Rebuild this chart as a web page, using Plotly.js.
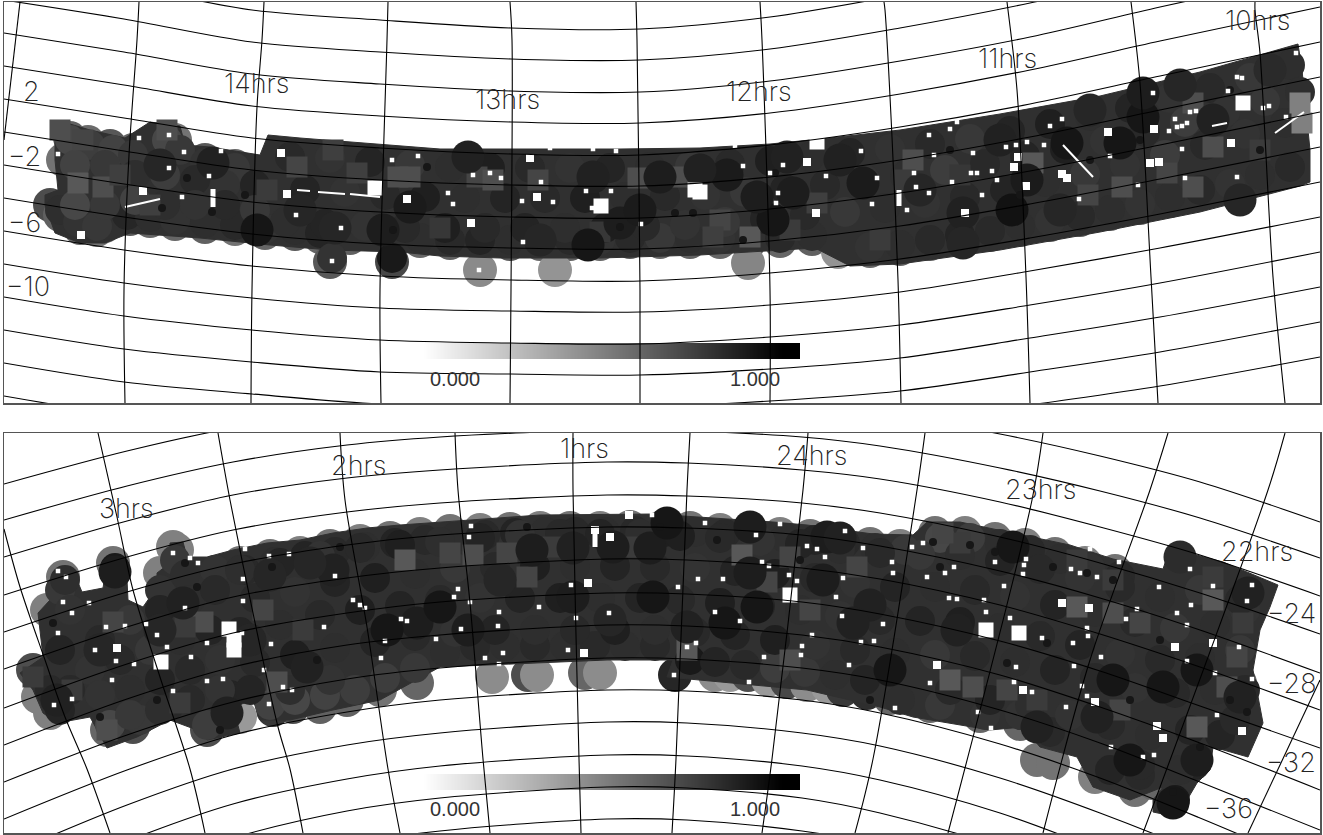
<!DOCTYPE html>
<html><head><meta charset="utf-8">
<script src="https://cdn.plot.ly/plotly-3.0.1.min.js"></script>
<style>html,body{margin:0;padding:0;background:#fff;overflow:hidden}#c{width:1323px;height:835px}</style>
</head><body><div id="c"></div>
<script>
// ---- graticule
const topParX=[4,124,252,380,511,640,770,900,1030,1160,1320];
const topParY=[
[-33,-14,10,20,28,29,17,-5,-30,-62,-98],
[0,19,42,52,59,60,49,28,3,-27,-63],
[33,52,74,84,91,92,81,61,37,7,-28],
[66,85,106,116,122,123,113,94,70,41,7],
[99,118,138,148,154,155,145,127,104,76,42],
[132,151,170,180,185,186,177,160,137,110,77],
[165,184,202,212,217,218,209,193,171,145,112],
[198,217,234,244,248,249,241,226,204,179,147],
[231,250,266,276,280,281,273,259,238,214,182],
[264,283,298,308,311,312,305,292,271,248,217],
[297,316,330,340,343,344,337,325,305,283,252],
[330,349,362,372,374,375,369,358,338,317,287],
[363,382,394,404,406,407,401,391,372,352,322],
[396,415,426,436,437,438,433,424,405,386,357]];
const topMerX=[[20,4],[139,137,129,124,125],[264,262,257,252,251],[388,387,380,381],[510,512,511,510],[636,637,640,640],[760,762,770,770],[884,885,892,898,901],[1007,1008,1017,1026,1030],[1131,1132,1140,1151,1158],[1255,1255,1260,1273,1285]];
const topMerY=[[2,140],[2,40,155,290,403],[2,40,107,290,403],[2,40,290,403],[2,40,290,403],[2,40,290,403],[2,40,290,403],[2,10,137,280,403],[2,10,90,277,403],[2,10,83,277,403],[2,10,53,277,403]];

const botParX=[4,127,233,347,440,607,687,802,880,1000,1100,1200,1320];
const botParY=[
[484,451,428,413,405,398,399,405,413,434,456,482,522],
[520,486,462,445,437,430,431,437,446,468,491,518,558],
[557,521,495,478,470,462,463,470,479,502,527,555,596],
[595,557,530,512,503,495,496,503,513,537,563,593,634],
[632,592,564,545,535,527,528,535,546,571,598,630,673],
[669,627,597,578,568,559,560,568,579,605,634,667,710],
[708,664,633,613,602,593,594,602,614,641,671,706,748],
[745,699,667,645,635,625,626,635,647,675,707,743,790],
[782,735,702,679,668,658,659,668,680,710,743,782,830],
[819,770,735,712,700,690,691,700,713,744,778,818,869],
[856,805,769,745,733,722,723,733,746,778,813,853,908],
[893,841,804,779,766,755,756,766,780,813,850,891,948],
[930,876,838,811,798,787,788,798,813,847,885,928,988],
[967,911,871,844,831,819,820,831,845,880,920,965,1028]];
const botMerX=[[4,20,45,65,87,110],[98,117,133,160,190,205],[218,230,253,278,290,303],[340,345,367,388,400],[455,458,470,483,490],[573,573,579,581],[690,687,676,672],[808,803,772,762],[925,917,873,855],[1043,1032,948],[1168,1150,1090,1043],[1285,1268,1143],[1320,1248]];
const botMerY=[[529,587,660,717,769,833],[433,517,590,677,769,833],[433,500,613,727,769,833],[433,500,627,769,833],[433,490,603,759,833],[433,490,759,833],[433,490,759,833],[433,490,759,833],[433,490,759,833],[433,500,833],[433,490,660,833],[433,490,833],[680,833]];

// ---- colour key
const keyX=[423,459,495,531,567,603,639,675,711,747,782];
const keyLevels=[0,0.1,0.2,0.3,0.4,0.5,0.6,0.7,0.8,0.9,1];

// ---- survey outline
const topBodyX=[55,70,90,125,150,180,185,210,260,268,300,380,440,500,620,700,770,830,900,1000,1100,1200,1298,1302,1305,1310,1310,1300,1200,1100,1000,900,850,815,700,600,500,440,400,330,270,200,130,105,80,55,45,45,58,55];
const topBodyY=[125,124,130,138,122,126,145,147,155,135,138,144,149,149,149,148,144,138,130,114,96,72,44,70,100,150,182,186,212,232,250,264,266,248,255,258,258,256,252,250,245,238,233,243,243,233,205,195,190,160];
const botBodyX=[20,43,38,50,52,60,77,82,103,107,120,127,128,143,157,157,170,170,183,187,207,233,267,300,333,367,400,440,540,653,730,773,807,873,913,927,960,1023,1070,1113,1163,1170,1223,1278,1270,1260,1253,1263,1248,1213,1210,1197,1177,1153,1153,1163,1130,1093,1077,1040,1023,990,947,913,880,807,667,673,607,440,380,333,290,260,253,233,240,207,197,170,137,107,90,57,43,33];
const botBodyY=[673,657,613,600,577,570,580,592,588,563,555,580,600,607,587,573,563,543,542,557,557,550,543,540,533,528,525,522,515,514,519,522,525,534,535,522,522,535,545,559,569,548,562,585,607,630,670,723,757,747,770,783,817,812,800,787,800,787,757,747,727,730,723,717,707,690,677,660,660,667,700,710,720,720,700,707,733,740,730,720,737,748,717,723,713,690];

// ---- fields at the rim (under the body)
const topRimX=[70,88,110,133,165,175,205,235,50,60,80,97,105,130,150,175,205,235,265,295,320,350,330,392,420,450,480,510,540,570,600,630,660,690,720,748,780,812,480,555,748,838,870,900,930,960,990,1020,1050,1080,1110,1140,1170,1200,1230,1260,1290,63];
const topRimY=[138,142,146,150,137,140,160,166,205,215,228,230,226,219,221,224,227,229,233,234,237,238,262,262,241,243,244,244,244,244,244,242,242,242,242,244,241,239,270,270,263,252,251,249,244,239,235,230,225,220,214,208,201,194,188,179,171,160];
const topRimV=[0.62,0.58,0.66,0.6,0.6,0.55,0.65,0.6,0.7,0.62,0.6,0.55,0.6,0.65,0.6,0.6,0.62,0.55,0.6,0.65,0.6,0.62,0.65,0.72,0.6,0.62,0.6,0.65,0.6,0.62,0.6,0.65,0.6,0.62,0.6,0.65,0.6,0.62,0.46,0.42,0.48,0.42,0.6,0.62,0.6,0.65,0.6,0.62,0.6,0.65,0.6,0.62,0.6,0.65,0.6,0.62,0.6,0.55];
const botRimX=[492,528,537,585,600,675,715,730,748,768,787,807,828,843,867,417,380,347,320,293,273,240,207,133,107,50,38,177,113,63,47,33,160,173,240,270,300,330,360,390,420,450,480,510,540,570,600,630,660,690,720,750,780,810,840,870,900,935,965,995,1025,1055,1085,1115,1037,1053,1095,1135,1153,1245,1240,1052,1073,890,930,980,1020];
const botRimY=[677,675,675,673,673,675,675,675,675,680,682,685,687,690,693,683,690,700,707,707,710,717,730,727,730,713,697,550,563,577,610,670,573,547,563,556,553,546,541,538,534,531,530,529,528,528,528,527,528,528,530,531,534,536,539,544,546,533,533,539,545,554,563,571,760,763,777,790,783,590,683,603,608,698,706,716,724];
const botRimV=[0.45,0.7,0.45,0.6,0.45,0.85,0.45,0.4,0.7,0.4,0.72,0.45,0.4,0.78,0.82,0.6,0.55,0.62,0.62,0.7,0.78,0.4,0.7,0.7,0.6,0.5,0.5,0.5,0.55,0.55,0.5,0.7,0.5,0.5,0.55,0.55,0.5,0.55,0.5,0.55,0.5,0.55,0.5,0.55,0.5,0.55,0.5,0.55,0.5,0.55,0.5,0.55,0.5,0.55,0.5,0.55,0.5,0.55,0.5,0.55,0.5,0.55,0.5,0.55,0.55,0.55,0.5,0.55,0.6,0.6,0.6,0.35,0.55,0.6,0.6,0.6,0.6];

// ---- scalloped body fields along the outline
const topEdgeX=[70,90,113,133,167,180,205,235,60,78,97,127,150,175,205,235,265,295,320,332,392,420,450,480,510,540,570,600,630,660,690,720,780,812,870,900,930,960,990,1020,1050,1080,1110,1140,1170,1200,1230,1260,1290];
const topEdgeY=[140,145,150,155,140,150,163,168,210,222,226,215,217,220,223,225,229,230,233,258,258,238,240,240,240,240,240,240,238,238,238,238,238,236,247,245,240,235,231,226,221,216,210,204,197,190,184,175,167];
const topEdgeV=[0.72,0.76,0.74,0.78,0.72,0.78,0.8,0.78,0.82,0.8,0.78,0.85,0.82,0.8,0.82,0.84,0.8,0.82,0.86,0.8,0.9,0.82,0.84,0.86,0.82,0.86,0.84,0.8,0.84,0.78,0.82,0.8,0.84,0.82,0.8,0.82,0.84,0.86,0.84,0.82,0.8,0.84,0.82,0.8,0.82,0.84,0.8,0.82,0.84];
const botEdgeX=[60,65,115,160,175,185,215,245,275,305,335,365,395,425,455,485,515,545,575,605,635,665,695,725,755,785,815,845,875,905,940,970,1000,1030,1060,1090,1120,50,60,110,140,170,207,230,270,295,325,355,385,415,445,475,505,535,565,595,625,655,690,715,745,775,805,835,865,900,940,985,1020,1050,1110,1140,1175,1195,1220,1235,1245,1240,1245];
const botEdgeY=[590,580,568,590,560,575,570,570,562,556,552,547,543,540,537,535,533,532,532,532,531,532,532,534,535,538,540,543,548,550,538,538,544,550,559,568,576,690,710,725,720,705,725,695,705,700,695,690,678,668,652,646,646,646,646,646,646,646,660,662,665,668,672,675,680,700,705,715,715,732,770,775,800,765,735,720,690,650,610];
const botEdgeV=[0.78,0.82,0.9,0.8,0.78,0.82,0.8,0.84,0.82,0.86,0.84,0.82,0.86,0.84,0.82,0.84,0.86,0.82,0.84,0.82,0.84,0.88,0.82,0.84,0.8,0.82,0.86,0.84,0.82,0.78,0.72,0.76,0.82,0.84,0.82,0.8,0.84,0.84,0.86,0.72,0.78,0.84,0.76,0.86,0.74,0.72,0.74,0.76,0.76,0.78,0.82,0.84,0.82,0.84,0.82,0.84,0.82,0.84,0.9,0.86,0.84,0.76,0.78,0.82,0.86,0.82,0.78,0.8,0.8,0.84,0.86,0.84,0.9,0.86,0.86,0.84,0.84,0.82,0.8];

// ---- ordinary fields across the body
const topFieldX=[75,105,135,165,195,225,255,75,105,135,165,195,225,255,290,330,370,410,450,490,530,570,610,650,690,730,770,810,850,890,930,970,1010,1050,1090,1130,1170,1210,1250,1290,305,345,385,425,465,505,545,585,625,665,705,745,785,825,865,905,945,985,1025,1065,1105,1145,1185,1225,1265,1300,285,325,365,405,445,485,525,565,605,645,685,725,765,805,845,885,925,965,1005,1045,1085,1125,1165,1205,1245,1285];
const topFieldY=[165,165,175,175,180,185,185,205,205,200,205,205,205,210,157,158,162,165,167,168,168,168,168,167,166,164,161,157,153,149,144,139,131,124,116,108,98,88,78,65,190,192,195,197,198,198,198,198,197,196,195,192,189,185,180,176,170,164,156,149,141,132,122,112,101,92,222,224,226,228,228,228,228,228,228,226,225,222,219,215,212,208,203,197,190,182,174,165,155,145,134,123];
const topFieldV=[0.74,0.78,0.82,0.76,0.84,0.8,0.86,0.72,0.78,0.74,0.82,0.8,0.84,0.78,0.84,0.8,0.86,0.78,0.82,0.88,0.84,0.8,0.86,0.82,0.78,0.84,0.88,0.82,0.86,0.8,0.84,0.78,0.86,0.88,0.82,0.86,0.8,0.84,0.78,0.82,0.86,0.8,0.84,0.88,0.82,0.86,0.84,0.88,0.82,0.84,0.8,0.78,0.86,0.84,0.8,0.82,0.76,0.84,0.86,0.88,0.8,0.84,0.76,0.8,0.78,0.82,0.82,0.86,0.8,0.84,0.88,0.84,0.86,0.82,0.88,0.84,0.8,0.78,0.86,0.84,0.78,0.82,0.8,0.84,0.86,0.82,0.78,0.8,0.76,0.84,0.8,0.82];
const botFieldX=[240,280,320,360,400,440,480,520,560,600,640,680,720,760,800,840,880,920,960,1000,1040,1080,1120,1160,1200,1240,255,295,335,375,415,455,495,535,575,615,655,695,735,775,815,855,895,935,975,1015,1055,1095,1135,1175,1215,240,280,320,360,400,440,480,520,560,600,640,680,720,760,800,840,880,920,960,1000,1040,1080,1120,1160,1200,1240,255,295,335,375,415,455,495,535,575,615,655,695,735,775,815,855,895,935,975,1015,1055,1095,1135,1175,1215,70,100,130,160,190,215,60,90,120,150,180,210,70,100,130,160,190,220,130,160,190,220,250,290,330,950,990,1030,1070,1110,1150,1190,1140,1180];
const botFieldY=[570,563,556,548,545,542,538,535,534,534,534,536,538,541,544,549,553,555,555,561,569,578,587,597,590,600,598,592,582,578,574,568,567,566,566,566,567,568,571,574,578,583,587,587,590,596,605,612,622,628,625,632,625,615,610,606,600,598,598,598,598,598,600,603,606,610,616,620,621,622,628,636,645,654,660,658,650,662,655,648,642,636,632,630,630,630,630,630,632,635,640,645,650,653,655,656,662,670,678,688,693,690,610,640,620,610,600,590,650,670,660,650,640,630,690,695,690,680,670,660,715,710,700,690,690,690,680,690,700,705,715,725,735,730,765,770];
const botFieldV=[0.82,0.86,0.8,0.84,0.88,0.82,0.86,0.8,0.84,0.86,0.82,0.88,0.84,0.8,0.86,0.82,0.84,0.78,0.82,0.86,0.84,0.8,0.84,0.82,0.78,0.84,0.84,0.8,0.86,0.88,0.82,0.78,0.84,0.88,0.82,0.86,0.84,0.8,0.86,0.88,0.84,0.8,0.86,0.82,0.84,0.8,0.86,0.82,0.84,0.78,0.82,0.86,0.82,0.84,0.88,0.86,0.84,0.8,0.86,0.88,0.82,0.86,0.84,0.88,0.86,0.82,0.8,0.84,0.86,0.88,0.82,0.84,0.86,0.8,0.84,0.82,0.78,0.84,0.88,0.82,0.86,0.84,0.8,0.86,0.82,0.84,0.88,0.82,0.84,0.86,0.88,0.8,0.84,0.82,0.78,0.84,0.82,0.86,0.84,0.8,0.84,0.82,0.8,0.84,0.78,0.86,0.82,0.84,0.86,0.8,0.84,0.78,0.82,0.86,0.84,0.8,0.82,0.86,0.84,0.8,0.78,0.82,0.84,0.8,0.86,0.82,0.8,0.84,0.86,0.82,0.8,0.84,0.82,0.86,0.84,0.82];

// ---- lighter tiles inside the body
const topTileX=[78,103,83,167,60,267,297,398,357,333,410,477,493,538,638,682,697,720,713,817,790,750,1300,1302,1167,1193,1193,1213,913,905,1033,1088,1122,150,120,440,600,880,960,1260];
const topTileY=[183,187,140,130,130,190,167,177,173,150,177,177,180,180,178,177,177,220,237,203,230,237,103,123,173,187,103,147,160,180,163,195,187,205,175,228,232,240,175,150];
const topTileV=[0.55,0.6,0.65,0.6,0.6,0.7,0.65,0.6,0.68,0.68,0.6,0.65,0.6,0.65,0.6,0.6,0.65,0.65,0.68,0.68,0.7,0.55,0.35,0.35,0.65,0.6,0.6,0.6,0.6,0.7,0.55,0.65,0.6,0.68,0.68,0.72,0.72,0.7,0.72,0.7];
const botTileX=[113,203,185,263,107,277,72,33,303,180,405,473,450,507,553,527,742,767,790,687,790,857,810,630,960,943,950,973,1007,1037,1077,1077,1113,1140,1213,1243,1237,1227,1197,1120,1113,1213];
const botTileY=[622,622,627,610,730,682,690,677,630,703,560,555,553,553,547,577,555,582,557,650,660,567,610,547,543,533,680,687,690,700,607,560,613,623,600,623,657,687,727,710,580,577];
const botTileV=[0.65,0.6,0.7,0.65,0.6,0.6,0.7,0.7,0.7,0.7,0.55,0.6,0.65,0.65,0.7,0.65,0.55,0.65,0.65,0.55,0.6,0.65,0.65,0.7,0.7,0.65,0.55,0.6,0.65,0.7,0.55,0.7,0.6,0.65,0.55,0.7,0.65,0.6,0.55,0.65,0.7,0.7];

// ---- darker fields inside the body
const topDarkX=[588,660,727,593,620,640,773,757,793,787,863,468,410,383,257,213,1012,1067,1120,1027,1143,1213,1143,963,963,335,300,160,540,700,840,920,1000,1090,1180,1270,1060,1240];
const topDarkY=[245,177,175,177,223,210,220,197,193,157,183,157,207,230,230,163,210,143,143,180,117,120,93,213,243,228,210,165,240,170,160,190,140,110,85,70,210,200];
const topDarkV=[0.95,0.92,0.93,0.9,0.92,0.93,0.95,0.92,0.92,0.9,0.93,0.9,0.93,0.92,0.95,0.9,0.97,0.95,0.95,0.93,0.95,0.9,0.92,0.9,0.88,0.88,0.88,0.88,0.88,0.9,0.9,0.88,0.9,0.88,0.88,0.86,0.88,0.88];
const botDarkX=[115,417,387,333,310,183,160,307,227,57,532,573,613,650,653,440,468,725,757,750,750,667,573,827,840,870,853,687,823,1013,890,957,1163,1197,1113,1130,1097,1037,1197,1173,1240,1180,1248,270,250,100,500,610];
const botDarkY=[572,623,630,570,563,603,630,667,713,700,550,548,547,548,597,607,630,623,607,573,527,523,597,537,538,605,623,627,580,547,670,630,687,670,680,760,717,727,760,803,697,557,593,575,640,650,580,620];
const botDarkV=[0.92,0.92,0.95,0.9,0.88,0.9,0.88,0.9,0.9,0.9,0.92,0.9,0.92,0.92,0.95,0.95,0.92,0.95,0.95,0.92,0.92,0.95,0.92,0.92,0.9,0.9,0.9,0.9,0.92,0.95,0.95,0.9,0.95,0.95,0.95,0.95,0.9,0.9,0.92,0.95,0.9,0.85,0.9,0.88,0.88,0.88,0.88,0.88];

// ---- small black overlaps of neighbouring fields
const topLensX=[187,245,162,393,427,212,675,693,620,743,775,1090,1140,1020,950,1230,1260];
const topLensY=[178,195,208,230,167,212,213,213,227,240,173,160,140,195,150,90,150];
const botLensX=[940,970,995,933,1053,1087,1113,1047,1007,1230,1247,1200,1173,527,717,660,53,100,157,197,185,272,340,317,220,800,870,1130,1160];
const botLensY=[567,545,552,542,567,573,580,643,663,700,712,747,792,527,540,527,623,717,700,587,563,567,547,660,730,560,700,700,640];

// ---- holes in the coverage
const topHoleSmallX=[58,139,169,184,221,169,209,182,392,418,296,332,341,448,453,473,490,501,541,523,479,550,593,616,522,553,586,611,592,641,743,770,783,806,826,861,877,778,776,872,735,1296,1237,1153,957,950,929,934,973,1006,1016,1027,1062,1050,1044,914,916,929,952,971,977,992,997,907,982,1079,1110,1169,1177,1182,1187,1175,1190,1196,1182,1185,1237,1263,1269,1228,1286,1138,1242];
const topHoleSmallY=[154,138,135,152,151,168,176,197,160,156,215,261,228,193,204,175,173,178,182,242,270,148,149,151,201,202,191,191,208,224,166,173,165,162,176,151,178,193,203,204,146,53,77,93,122,129,135,155,153,147,145,142,119,126,145,173,187,193,182,173,173,171,180,210,195,199,156,131,127,126,123,119,112,111,149,178,177,108,106,91,117,185,78];
const topHoleMedX=[407,143,287,281,81,471,537,816,807,530,1154,1231,1150,1159,1026,1018,1014,965,1067,1062,1108];
const topHoleMedY=[199,191,194,153,235,223,197,213,162,158,129,143,163,162,186,157,167,213,178,174,132];
const topHoleBigX=[375,601,695,700,817,1243];
const topHoleBigY=[188,206,190,192,142,103];
const topStreakX=[125,160,null,297,310,null,318,345,null,350,380,null,1063,1093,null,1275,1304,null,1212,1227];
const topStreakY=[207,199,null,190,191,null,192,194,null,194,197,null,145,177,null,133,112,null,126,123];
const topSlotX=[213,213,null,899,899];
const topSlotY=[189,207,null,190,206];

const botHoleSmallX=[58,66,63,72,89,58,106,125,95,134,116,112,54,72,146,157,167,173,198,190,185,245,269,289,243,243,335,353,365,360,401,407,385,381,324,271,207,191,173,207,223,283,292,269,264,242,436,471,469,454,458,470,499,498,461,485,503,499,539,571,576,568,609,652,705,780,756,807,817,825,863,845,762,769,723,698,678,789,797,843,836,842,715,740,812,802,801,861,874,849,696,687,674,749,764,892,893,912,923,927,954,945,995,1026,1024,1023,1004,957,949,984,986,1010,883,1080,1071,1097,1119,1090,1089,1137,1126,1159,1190,1213,1252,1247,1191,1177,1187,1175,1213,1239,1187,1215,1087,1088,1073,1042,1101,1074,1016,937,930,1014,1023,1032,1082,1087,1095,1066,895,978,991,1111,1143,1154,1217,1242,1252];
const botHoleSmallY=[571,577,602,613,603,633,627,626,650,664,661,680,705,699,624,635,647,553,563,558,608,549,556,554,579,601,576,600,608,605,619,621,641,658,627,644,643,657,691,681,679,687,690,704,670,633,639,526,537,597,589,602,612,626,629,658,653,664,607,585,618,650,613,515,523,524,535,546,549,557,548,531,562,566,579,579,587,575,581,578,597,616,612,621,635,646,655,642,641,665,643,647,675,682,657,562,573,547,543,577,567,573,562,559,565,574,586,599,598,600,612,618,624,573,569,577,562,549,608,609,619,587,569,586,585,601,605,613,625,647,643,647,661,673,628,636,643,638,657,666,667,665,683,682,690,692,686,696,702,707,708,712,728,747,757,755,715,731,679];
const botHoleMedX=[117,161,229,595,610,588,584,629,1157,1163,1062,1089,1095,1175,1213,1023,937,1242];
const botHoleMedY=[648,662,629,530,537,583,653,515,726,738,603,608,702,647,643,690,665,731];
const botHoleBigX=[229,234,234,790,986,1019,161];
const botHoleBigY=[629,640,650,595,630,633,662];
const botSlotX=[595,595];
const botSlotY=[527,547];

// ---- text
const topLabelText=['14hrs','13hrs','12hrs','11hrs','10hrs','2','\u22122','\u22126','\u221210','0.000','1.000'];
const topLabelX=[257,507,759,1007,1257,31,24,24,28,455,755];
const topLabelY=[84,100,92,59,21,92,157,223,287,379,379];
const botLabelText=['3hrs','2hrs','1hrs','24hrs','23hrs','22hrs','\u221224','\u221228','\u221232','\u221236','0.000','1.000'];
const botLabelX=[126,358,584,811,1040,1257,1291,1291,1291,1228,455,755];
const botLabelY=[508,465,448,455,489,551,613,683,762,808,809,809];

const grey=[[0,'#ffffff'],[1,'#000000']];
function join(rowsX,rowsY){const x=[],y=[];rowsY.forEach((r,i)=>{const rx=Array.isArray(rowsX[0])?rowsX[i]:rowsX;r.forEach((v,j)=>{x.push(rx[j]);y.push(v)});x.push(null);y.push(null)});return {x,y}}
function circles(x,y,v,size,sym,ax,lo=0,hi=1){return {type:'scatter',mode:'markers',x,y,xaxis:ax[0],yaxis:ax[1],hoverinfo:'skip',
  marker:{size,symbol:sym,color:v,colorscale:grey,cmin:lo,cmax:hi,line:{width:0}}}}
function solid(x,y,size,ax){return {type:'scatter',mode:'markers',x,y,xaxis:ax[0],yaxis:ax[1],hoverinfo:'skip',marker:{size,symbol:'square',color:'#fff',line:{width:0}}}}
function line(x,y,color,width,ax,smooth){return {type:'scatter',mode:'lines',x,y,xaxis:ax[0],yaxis:ax[1],hoverinfo:'skip',connectgaps:false,line:smooth?{color,width,shape:'spline',smoothing:0.9}:{color,width}}}
function panel(d,ax,keyY){const g1=join(d.parX,d.parY),g2=join(d.merX,d.merY);return [
 {type:'heatmap',x:keyX,y:keyY,z:[keyLevels,keyLevels],zmin:0,zmax:1,zsmooth:'best',colorscale:grey,showscale:false,xaxis:ax[0],yaxis:ax[1],hoverinfo:'skip'},
 circles(d.rimX,d.rimY,d.rimV,34,'circle',ax),
 {type:'scatter',mode:'lines',x:d.bodyX.concat(d.bodyX[0]),y:d.bodyY.concat(d.bodyY[0]),fill:'toself',fillcolor:'#303030',line:{color:'#303030',width:1},xaxis:ax[0],yaxis:ax[1],hoverinfo:'skip'},
 circles(d.edgeX,d.edgeY,d.edgeV,30,'circle',ax),
 circles(d.fieldX,d.fieldY,d.fieldV,30,'circle',ax),
 circles(d.tileX,d.tileY,d.tileV,21,'square',ax,-0.3,1),
 circles(d.darkX,d.darkY,d.darkV,33,'circle',ax,-0.1,1.05),
 {type:'scatter',mode:'markers',x:d.lensX,y:d.lensY,xaxis:ax[0],yaxis:ax[1],hoverinfo:'skip',marker:{size:8,color:'#161616',line:{width:0}}},
 solid(d.smX,d.smY,4.5,ax),solid(d.mdX,d.mdY,8,ax),solid(d.bgX,d.bgY,15,ax),
 line(d.strX,d.strY,'#ffffff',2,ax),line(d.slotX,d.slotY,'#ffffff',5,ax),
 line(g1.x,g1.y,'#000000',1.1,ax,true),line(g2.x,g2.y,'#000000',1.1,ax,true)];}

const data=[...panel({parX:topParX,parY:topParY,merX:topMerX,merY:topMerY,rimX:topRimX,rimY:topRimY,rimV:topRimV,bodyX:topBodyX,bodyY:topBodyY,edgeX:topEdgeX,edgeY:topEdgeY,edgeV:topEdgeV,fieldX:topFieldX,fieldY:topFieldY,fieldV:topFieldV,lensX:topLensX,lensY:topLensY,tileX:topTileX,tileY:topTileY,tileV:topTileV,darkX:topDarkX,darkY:topDarkY,darkV:topDarkV,smX:topHoleSmallX,smY:topHoleSmallY,mdX:topHoleMedX,mdY:topHoleMedY,bgX:topHoleBigX,bgY:topHoleBigY,strX:topStreakX,strY:topStreakY,slotX:topSlotX,slotY:topSlotY},['x','y'],[347,355]),
 ...panel({parX:botParX,parY:botParY,merX:botMerX,merY:botMerY,rimX:botRimX,rimY:botRimY,rimV:botRimV,bodyX:botBodyX,bodyY:botBodyY,edgeX:botEdgeX,edgeY:botEdgeY,edgeV:botEdgeV,fieldX:botFieldX,fieldY:botFieldY,fieldV:botFieldV,lensX:botLensX,lensY:botLensY,tileX:botTileX,tileY:botTileY,tileV:botTileV,darkX:botDarkX,darkY:botDarkY,darkV:botDarkV,smX:botHoleSmallX,smY:botHoleSmallY,mdX:botHoleMedX,mdY:botHoleMedY,bgX:botHoleBigX,bgY:botHoleBigY,strX:[],strY:[],slotX:botSlotX,slotY:botSlotY},['x2','y2'],[778,786])];

function ann(t,x,y,ax){const key=t.indexOf('.')>0;return {text:t,x,y,xref:ax[0],yref:ax[1],showarrow:false,xanchor:'center',yanchor:'middle',
  font:key?{family:'"Liberation Sans",sans-serif',size:20,color:'#333'}:{family:'Inter,"DejaVu Sans",sans-serif',size:27,weight:200,color:'#222'}}}
const annotations=[...topLabelText.map((t,i)=>ann(t,topLabelX[i],topLabelY[i],['x','y'])),...botLabelText.map((t,i)=>ann(t,botLabelX[i],botLabelY[i],['x2','y2']))];
const H=835,W=1323;
const axX={showgrid:false,zeroline:false,showticklabels:false,ticks:'',mirror:true,showline:true,linecolor:'#555',linewidth:1.5,range:[4,1320],domain:[4/W,1320/W],fixedrange:true};
const layout={width:W,height:H,margin:{l:0,r:0,t:0,b:0},paper_bgcolor:'#fff',plot_bgcolor:'#fff',showlegend:false,annotations,
 xaxis:{...axX,anchor:'y'},xaxis2:{...axX,anchor:'y2'},
 yaxis:{...axX,range:[403,2],domain:[1-403/H,1-2/H],anchor:'x'},
 yaxis2:{...axX,range:[833,433],domain:[1-833/H,1-433/H],anchor:'x2'}};
Plotly.newPlot('c',data,layout,{staticPlot:true,displayModeBar:false});
</script></body></html>
